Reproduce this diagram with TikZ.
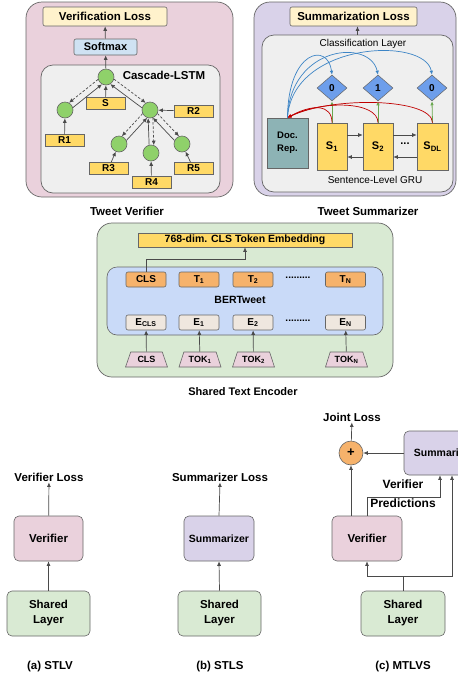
\documentclass[tikz,border=0pt]{standalone}
\usepackage{fontspec}
\setmainfont{Liberation Sans}
\usetikzlibrary{shapes.geometric,arrows.meta,calc}
\definecolor{pinkbg}{HTML}{EAD1DC}
\definecolor{lavbg}{HTML}{D9D2E9}
\definecolor{greenbg}{HTML}{D9EAD3}
\definecolor{graybg}{HTML}{EFEFEF}
\definecolor{bertblue}{HTML}{C9DAF8}
\definecolor{softblue}{HTML}{CFE2F3}
\definecolor{cream}{HTML}{FFF2CC}
\definecolor{yel}{HTML}{FFD966}
\definecolor{orng}{HTML}{F6B26B}
\definecolor{beige}{HTML}{EFE7DF}
\definecolor{docrep}{HTML}{8DB3B5}
\definecolor{diam}{HTML}{6D9EEB}
\definecolor{nodegreen}{HTML}{8FD16A}
\definecolor{bord}{HTML}{666666}
\definecolor{arrc}{HTML}{4A4A4A}
\definecolor{bluec}{HTML}{3D85C6}
\definecolor{redc}{HTML}{C00000}
\definecolor{grnc}{HTML}{6AA84F}
\newcommand\fsz[2]{\fontsize{#1}{#2}\selectfont}
\tikzset{
 panel/.style={draw=bord, line width=0.7pt, rounded corners=16pt, inner sep=0},
 innerbox/.style={draw=bord, fill=graybg, line width=0.7pt, rounded corners=12pt, inner sep=0},
 bx/.style={draw=bord, line width=0.6pt, rounded corners=2pt, inner sep=0, align=center},
 ybox/.style={bx, fill=yel, rounded corners=0pt, minimum width=39, minimum height=12, font=\fsz{10}{12}\bfseries},
 tnode/.style={circle, draw=bord, fill=nodegreen, line width=0.6pt, minimum size=16, inner sep=0},
 arr/.style={draw=arrc, line width=0.7pt, -{Latex[length=4.5pt,width=4pt]}},
 dsh/.style={arr, dash pattern=on 2.5pt off 1.8pt},
 lbl/.style={font=\fsz{11.5}{14}\bfseries, inner sep=1pt, align=center},
 rlbl/.style={font=\fsz{10}{12}, inner sep=1pt},
 sbox/.style={bx, fill=yel, rounded corners=0pt, minimum width=30, minimum height=47, font=\fsz{11}{13}\bfseries},
 dia/.style={diamond, draw=bord, fill=diam, line width=0.5pt, minimum width=30, minimum height=26, inner sep=0, font=\fsz{10}{12}\bfseries},
 tbox/.style={bx, fill=orng, minimum width=40, minimum height=15, font=\fsz{10}{12}\bfseries},
 ebox/.style={bx, fill=beige, minimum width=40, minimum height=15, font=\fsz{10}{12}\bfseries},
 tok/.style={trapezium, trapezium left angle=65, trapezium right angle=65, trapezium stretches=true, draw=bord, fill=pinkbg, line width=0.6pt, minimum width=42, minimum height=15, inner sep=0, font=\fsz{9}{11}\bfseries},
 bigbox/.style={bx, rounded corners=5pt, minimum height=45, font=\fsz{11.5}{15}\bfseries},
 bluearr/.style={draw=bluec, line width=0.7pt, -{Latex[length=4pt,width=3.5pt]}},
 redarr/.style={draw=redc, line width=0.7pt, -{Latex[length=4pt,width=3.5pt]}},
 grnarr/.style={draw=grnc, line width=0.8pt, -{Latex[length=4pt,width=3.5pt]}},
}
\begin{document}
\begin{tikzpicture}[x=1pt,y=-1pt]
\path[use as bounding box] (0,0) rectangle (458,681);
\fill[white] (0,0) rectangle (458,681);
\clip (0,0) rectangle (458,681);

% ===== Tweet Verifier =====
\node[panel, fill=pinkbg, minimum width=207, minimum height=195] (tvpanel) at (129.5,99.5) {};
\node[bx, fill=cream, minimum width=124, minimum height=19, font=\fsz{11.5}{14}\bfseries] (vloss) at (105,16.5) {Verification Loss};
\node[bx, fill=softblue, minimum width=63, minimum height=16, font=\fsz{11}{13}\bfseries] (soft) at (105.5,47) {Softmax};
\node[innerbox, minimum width=179, minimum height=128] (lstmbox) at (130.5,129) {};
\node[lbl] (cl) at (164,75) {Cascade-LSTM};
\node[tnode] (root) at (106,77) {};
\node[tnode] (c1) at (65,110) {};
\node[tnode] (c2) at (150,110) {};
\node[tnode] (c3) at (119,144) {};
\node[tnode] (c4) at (151,153) {};
\node[tnode] (c5) at (182,144) {};
\node[ybox] (sb) at (105.5,103.5) {S};
\node[ybox] (r1) at (64.5,140.5) {R1};
\node[ybox] (r2) at (193.5,111) {R2};
\node[ybox] (r3) at (108.5,168.5) {R3};
\node[ybox] (r4) at (151.5,182) {R4};
\node[ybox] (r5) at (193.5,168.5) {R5};
\draw[arr] (soft) -- (vloss);
\draw[arr] (root) -- (soft);
\draw[arr] (sb) -- (root);
\draw[arr] (r1) -- (c1);
\draw[arr] (r2) -- (c2);
\draw[arr] (r3) -- (c3);
\draw[arr] (r4) -- (c4);
\draw[arr] (r5) -- (c5);
\draw[arr] (c1.17) -- (root.241);
\draw[dsh] (root.197) -- (c1.61);
\draw[arr] (c2.165) -- (root.301);
\draw[dsh] (root.345) -- (c2.121);
\draw[arr] (c3.26) -- (c2.250);
\draw[dsh] (c2.206) -- (c3.70);
\draw[arr] (c4.103) -- (c2.257);
\draw[dsh] (c2.290) -- (c4.70);
\draw[arr] (c5.155) -- (c2.291);
\draw[dsh] (c2.335) -- (c5.111);
\node[lbl] (tvl) at (127,211) {Tweet Verifier};

% ===== Tweet Summarizer =====
\node[panel, fill=lavbg, minimum width=202, minimum height=194] (tspanel) at (355,99) {};
\node[bx, fill=cream, minimum width=127, minimum height=19, font=\fsz{11.5}{14}\bfseries] (sloss) at (353.5,16.5) {Summarization Loss};
\node[innerbox, minimum width=191, minimum height=157] (clbox) at (357.5,113.5) {};
\draw[arr] (clbox.north) -- (clbox.north |- sloss.south);
\node[rlbl] (cll) at (363,44) {Classification Layer};
\node[dia] (d1) at (332,88) {0};
\node[dia] (d2) at (378,88) {1};
\node[dia] (d3) at (432,88) {0};
\node[bx, fill=docrep, rounded corners=0pt, minimum width=41, minimum height=50, font=\fsz{9.5}{13}\bfseries] (doc) at (287.5,143) {Doc.\\Rep.};
\node[sbox] (s1) at (332,146.5) {S\textsubscript{1}};
\node[sbox] (s2) at (378,146.5) {S\textsubscript{2}};
\node[sbox, minimum width=31] (s3) at (432.5,146.5) {S\textsubscript{DL}};
\node[font=\fsz{11}{13}\bfseries] (sdots) at (405,144) {...};
\draw[arr] ([yshift=11.5pt]s1.east) -- ([yshift=11.5pt]s2.west);
\draw[arr] ([yshift=-10.5pt]s2.west) -- ([yshift=-10.5pt]s1.east);
\draw[arr] ([yshift=11.5pt]s2.east) -- ([yshift=11.5pt]s3.west);
\draw[arr] ([yshift=-10.5pt]s3.west) -- ([yshift=-10.5pt]s2.east);
\draw[grnarr] (s1.north) -- (d1.south);
\draw[grnarr] (s2.north) -- (d2.south);
\draw[grnarr] (s3.north) -- (d3.south);
\draw[redarr] (s1.north) .. controls (332,104) and (312,104) .. (doc.north);
\draw[redarr] (s2.north) .. controls (378,101) and (322,100) .. (doc.north);
\draw[redarr] (s3.north) .. controls (432,98) and (332,96) .. (doc.north);
\draw[bluearr] (doc.north) .. controls (288,50) and (328,42) .. (d1.north);
\draw[bluearr] (doc.north) .. controls (290,46) and (370,38) .. (d2.north);
\draw[bluearr] (doc.north) .. controls (292,42) and (425,36) .. (d3.north);
\node[rlbl] (gru) at (375,180) {Sentence-Level GRU};
\node[lbl] (tsl) at (368,211) {Tweet Summarizer};

% ===== Shared Text Encoder =====
\node[panel, fill=greenbg, minimum width=296, minimum height=154, rounded corners=15pt] (encpanel) at (245,300) {};
\node[bx, fill=yel, rounded corners=0pt, minimum width=214, minimum height=14, font=\fsz{10.5}{12}\bfseries] (emb) at (245,240) {768-dim. CLS Token Embedding};
\node[bx, fill=bertblue, rounded corners=10pt, minimum width=276, minimum height=68] (bert) at (245,301) {};
\node[font=\fsz{10.5}{12}\bfseries] (bertl) at (240,300) {BERTweet};
\node[tbox] (tcls) at (146,279.5) {CLS};
\node[tbox] (t1) at (199,279.5) {T\textsubscript{1}};
\node[tbox] (t2) at (253,279.5) {T\textsubscript{2}};
\node[tbox] (tn) at (345.5,279.5) {T\textsubscript{N}};
\node[font=\fsz{10}{12}\bfseries] (tdots) at (298,278) {.........};
\node[ebox] (ecls) at (146,322.5) {E\textsubscript{CLS}};
\node[ebox] (e1) at (199,322.5) {E\textsubscript{1}};
\node[ebox] (e2) at (253,322.5) {E\textsubscript{2}};
\node[ebox] (en) at (345.5,322.5) {E\textsubscript{N}};
\node[font=\fsz{10}{12}\bfseries] (edots) at (298,321) {.........};
\node[tok] (kcls) at (146.5,359.5) {CLS};
\node[tok] (k1) at (200,359.5) {TOK\textsubscript{1}};
\node[tok] (k2) at (253.5,359.5) {TOK\textsubscript{2}};
\node[tok] (kn) at (346.5,359.5) {TOK\textsubscript{N}};
\draw[arr] (kcls) -- (ecls);
\draw[arr] (k1) -- (e1);
\draw[arr] (k2) -- (e2);
\draw[arr] (kn) -- (en);
\draw[arr] (tcls.north) -- ++(0,-12) -| (emb.south);
\node[lbl, font=\fsz{11}{13}\bfseries] (stel) at (243,392) {Shared Text Encoder};

% ===== (a) STLV =====
\node[lbl] (vl1) at (49,477) {Verifier Loss};
\node[bigbox, fill=pinkbg, minimum width=69] (ver1) at (48.5,538.5) {Verifier};
\node[bigbox, fill=greenbg, minimum width=83] (sh1) at (48.5,613.5) {Shared\\Layer};
\draw[arr] (sh1) -- (ver1);
\draw[arr] (ver1) -- (vl1);
\node[lbl] (ca) at (50,667) {(a) STLV};

% ===== (b) STLS =====
\node[lbl] (sl2) at (220,477) {Summarizer Loss};
\node[bigbox, fill=lavbg, minimum width=70, font=\fsz{10.5}{13}\bfseries] (sum2) at (219,538.5) {Summarizer};
\node[bigbox, fill=greenbg, minimum width=83] (sh2) at (219.5,613.5) {Shared\\Layer};
\draw[arr] (sh2.north) -- (sum2.south);
\draw[arr] (sum2.north) -- (sl2.south);
\node[lbl] (cb) at (220,667) {(b) STLS};

% ===== (c) MTLVS =====
\node[lbl] (jl) at (352,417) {Joint Loss};
\node[circle, draw=bord, fill=orng, line width=0.6pt, minimum size=24, inner sep=0, font=\fsz{13}{14}\bfseries] (plus) at (351,453) {+};
\node[bigbox, fill=lavbg, minimum width=80, minimum height=44, font=\fsz{10.5}{13}\bfseries] (sum3) at (444,453) {Summarizer};
\node[bigbox, fill=pinkbg, minimum width=70] (ver3) at (367,538.5) {Verifier};
\node[bigbox, fill=greenbg, minimum width=84] (sh3) at (403,613.5) {Shared\\Layer};
\coordinate (sj) at (403,576);
\coordinate (vpc) at (440,497);
\draw[arr] (plus) -- (jl);
\draw[arr] (sum3.west) -- (plus.east);
\draw[arr] (plus.south |- ver3.north) -- (plus.south);
\draw[arr] (ver3.north) |- (vpc) -- (vpc |- sum3.south);
\draw[arr] (sh3.north) -- (sj) -| (ver3.south);
\draw[arr] (sj) -| ([xshift=8pt]sum3.south);
\node[lbl, font=\fsz{12}{14}\bfseries] (vpl1) at (403,484) {Verifier};
\node[lbl, font=\fsz{12}{14}\bfseries] (vpl2) at (403,503) {Predictions};
\node[lbl] (cc) at (403,667) {(c) MTLVS};
\end{tikzpicture}
\end{document}
